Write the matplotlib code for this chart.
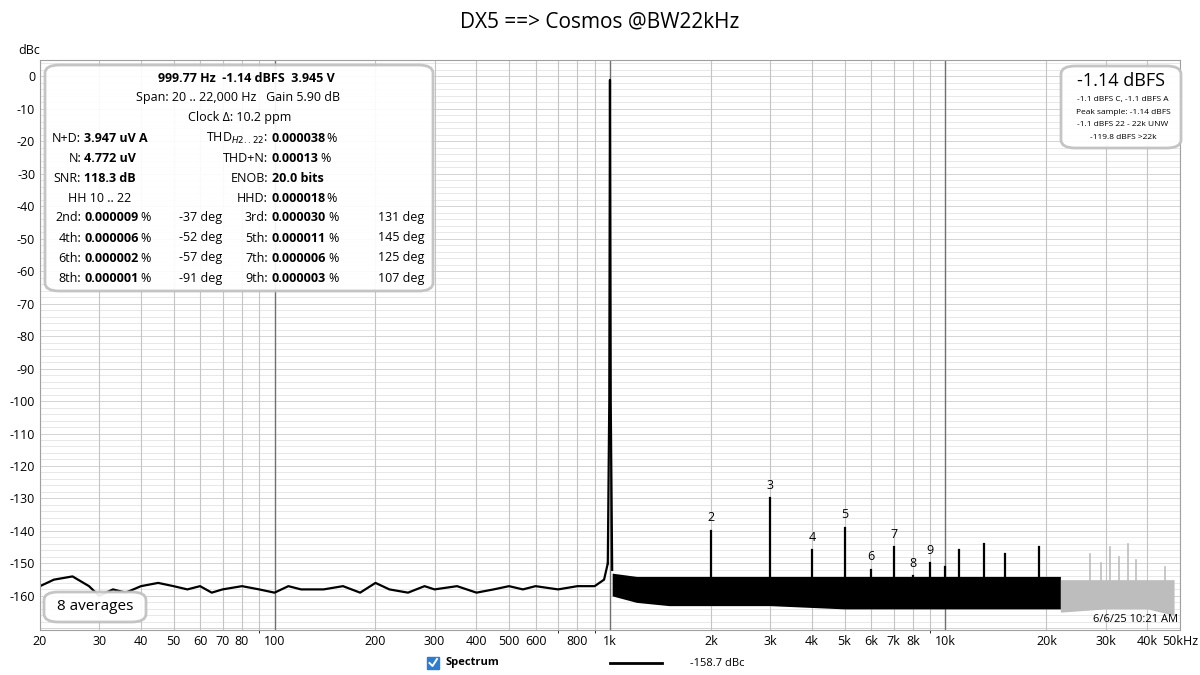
import matplotlib.pyplot as plt
from matplotlib.patches import FancyBboxPatch, Rectangle
from matplotlib.ticker import FixedLocator, NullFormatter

plt.rcParams['font.family'] = 'Open Sans'

# noise floor below the fundamental
low_f = [20, 22, 25, 28, 30, 33, 36, 40, 45, 50, 55, 60, 65, 70, 80, 90, 100, 110, 120,
         140, 160, 180, 200, 220, 250, 280, 300, 350, 400, 450, 500, 550, 600, 700, 800, 900, 960, 985]
low_db = [-157, -155, -154, -157, -160, -158, -159, -157, -156, -157, -158, -157, -159, -158,
          -157, -158, -159, -157, -158, -158, -157, -159, -156, -158, -159, -157, -158, -157,
          -159, -158, -157, -158, -157, -158, -157, -157, -155, -150]
# fundamental
fund_f = [985, 995, 999.77, 1005, 1015]
fund_db = [-150, -100, -1.14, -100, -152]
# dense noise band 1k..22k (envelope)
band_f = [1015, 1200, 1500, 2000, 3000, 5000, 8000, 12000, 16000, 22000]
band_lo = [-160, -162, -163, -163, -163, -164, -164, -164, -164, -164]
band_hi = [-153, -154, -154, -154, -154, -154, -154, -154, -154, -154]
# out-of-band (grey) band 22k..48k
oob_f = [22000, 30000, 40000, 48000]
oob_lo = [-165, -164, -164, -166]
oob_hi = [-155, -155, -155, -155]
# spurs
spur_f = [2000, 3000, 4000, 5000, 6000, 7000, 8000, 9000, 10000, 11000, 13000, 15000, 19000]
spur_db = [-140, -130, -146, -139, -152, -145, -154, -150, -151, -146, -144, -147, -145]
spur_lbl = ['2', '3', '4', '5', '6', '7', '8', '9', '', '', '', '', '']
oob_spur_f = [27000, 29000, 31000, 33000, 35000, 37000, 45000]
oob_spur_db = [-147, -150, -145, -148, -144, -149, -151]

xticks = [20, 30, 40, 50, 60, 70, 80, 100, 200, 300, 400, 500, 600, 800, 1000, 2000, 3000,
          4000, 5000, 6000, 7000, 8000, 10000, 20000, 30000, 40000, 50000]
xlabels = ['20', '30', '40', '50', '60', '70', '80', '100', '200', '300', '400', '500', '600',
           '800', '1k', '2k', '3k', '4k', '5k', '6k', '7k', '8k', '10k', '20k', '30k', '40k', '50kHz']

fig = plt.figure(figsize=(12, 6.75), dpi=100)
ax = fig.add_axes([40 / 1200, 45 / 675, 1140 / 1200, 570 / 675])
ax.set_xscale('log')
ax.set_xlim(20, 50000)
ax.set_ylim(-170.5, 5)

# grid
for y in range(-170, 6, 2):
    ax.axhline(y, color='#e8e8e8' if y % 10 else '#d4d4d4', lw=0.7, zorder=0)
minor_x = [f * d for d in (10, 100, 1000, 10000) for f in range(2, 10) if 20 <= f * d <= 50000]
for f in minor_x:
    ax.axvline(f, color='#c4c4c4', lw=0.8, zorder=0.5)
for f in [100, 1000, 10000]:
    ax.axvline(f, color='#707070', lw=1, zorder=0.6)

ax.plot(low_f, low_db, color='black', lw=1.6)
ax.plot(fund_f, fund_db, color='black', lw=1.6)
ax.fill_between(band_f, band_lo, band_hi, color='black', lw=0)
ax.fill_between(oob_f, oob_lo, oob_hi, color='#bdbdbd', lw=0)
for f, d, t in zip(spur_f, spur_db, spur_lbl):
    ax.plot([f, f], [-157, d], color='black', lw=1.6)
    if t:
        ax.text(f, d + 2, t, ha='center', va='bottom', fontsize=9)
for f, d in zip(oob_spur_f, oob_spur_db):
    ax.plot([f, f], [-157, d], color='#bdbdbd', lw=1.2)

ax.set_yticks(range(-160, 1, 10))
ax.set_yticklabels([str(v) for v in range(-160, 1, 10)], fontsize=9)
ax.xaxis.set_major_locator(FixedLocator(xticks))
ax.xaxis.set_minor_formatter(NullFormatter())
ax.set_xticklabels(xlabels, fontsize=9)
ax.tick_params(length=0)
for s in ax.spines.values():
    s.set_color('#a0a0a0')
fig.text(18 / 1200, 1 - 50 / 675, 'dBc', fontsize=9, ha='left', va='center')
fig.text(0.5, 1 - 22 / 675, 'DX5 ==> Cosmos @BW22kHz', fontsize=15, ha='center', va='center')

# info box
def rbox(x0, y0, x1, y1):
    fig.patches.append(FancyBboxPatch((x0 / 1200, 1 - y1 / 675), (x1 - x0) / 1200, (y1 - y0) / 675,
                                      boxstyle='round,pad=0,rounding_size=0.012', transform=fig.transFigure,
                                      fc='white', ec='#c0c0c0', lw=2, alpha=0.92))

def tx(x, y, s, ha='left', size=9, bold=False):
    fig.text(x / 1200, 1 - y / 675, s, ha=ha, va='center', fontsize=size,
             fontweight='bold' if bold else 'normal')

rbox(45, 65, 433, 291)
tx(246, 78, '999.77 Hz  -1.14 dBFS  3.945 V', 'center', bold=True)
tx(238, 98, 'Span: 20 .. 22,000 Hz   Gain 5.90 dB', 'center')
tx(240, 118, 'Clock Δ: 10.2 ppm', 'center')
left = [('N+D:', '3.947 uV A'), ('N:', '4.772 uV'), ('SNR:', '118.3 dB')]
right = [('THD$_{H2..22}$:', '0.000038'), ('THD+N:', '0.00013'), ('ENOB:', '20.0 bits'), ('HHD:', '0.000018')]
for i, (a, b) in enumerate(left):
    y = 138 + 20 * i
    tx(81, y, a, 'right')
    tx(84, y, b, bold=True)
for i, (c, d) in enumerate(right):
    y = 138 + 20 * i
    tx(268, y, c, 'right')
    tx(272, y, d, bold=True)
    if d[-1].isdigit():
        tx(272 + 6.3 * len(d) + 4, y, '%')
tx(100, 198, 'HH 10 .. 22', 'center')
harm = [('2nd:', '0.000009', '-37 deg', '3rd:', '0.000030', '131 deg'),
        ('4th:', '0.000006', '-52 deg', '5th:', '0.000011', '145 deg'),
        ('6th:', '0.000002', '-57 deg', '7th:', '0.000006', '125 deg'),
        ('8th:', '0.000001', '-91 deg', '9th:', '0.000003', '107 deg')]
for i, h in enumerate(harm):
    y = 218 + 20 * i
    tx(81, y, h[0], 'right')
    tx(84, y, h[1], bold=True)
    tx(140, y, '%')
    tx(222, y, h[2], 'right')
    tx(268, y, h[3], 'right')
    tx(272, y, h[4], bold=True)
    tx(328, y, '%')
    tx(424, y, h[5], 'right')

rbox(1061, 66, 1181, 148)
tx(1121, 81, '-1.14 dBFS', 'center', size=13)
for i, s in enumerate(['-1.1 dBFS C, -1.1 dBFS A', 'Peak sample: -1.14 dBFS',
                       '-1.1 dBFS 22 - 22k UNW', '-119.8 dBFS >22k']):
    tx(1123, 100 + 12.5 * i, s, 'center', size=6)

rbox(44, 592, 146, 622)
tx(95, 607, '8 averages', 'center', size=11)
tx(1178, 620, '6/6/25 10:21 AM', 'right', size=8)

# legend
fig.patches.append(Rectangle((427 / 1200, 1 - 669 / 675), 12 / 1200, 12 / 675,
                             transform=fig.transFigure, fc='#2b7cd3', ec='#2b7cd3'))
fig.add_artist(plt.Line2D([429.5 / 1200, 432.5 / 1200, 437 / 1200],
                          [1 - 663 / 675, 1 - 666 / 675, 1 - 659 / 675], color='white', lw=1.4))
tx(446, 663, 'Spectrum', size=8, bold=True)
fig.add_artist(plt.Line2D([610 / 1200, 662 / 1200], [1 - 663 / 675] * 2, color='black', lw=2))
tx(690, 663, '-158.7 dBc', size=8)

fig.savefig('out.png')
